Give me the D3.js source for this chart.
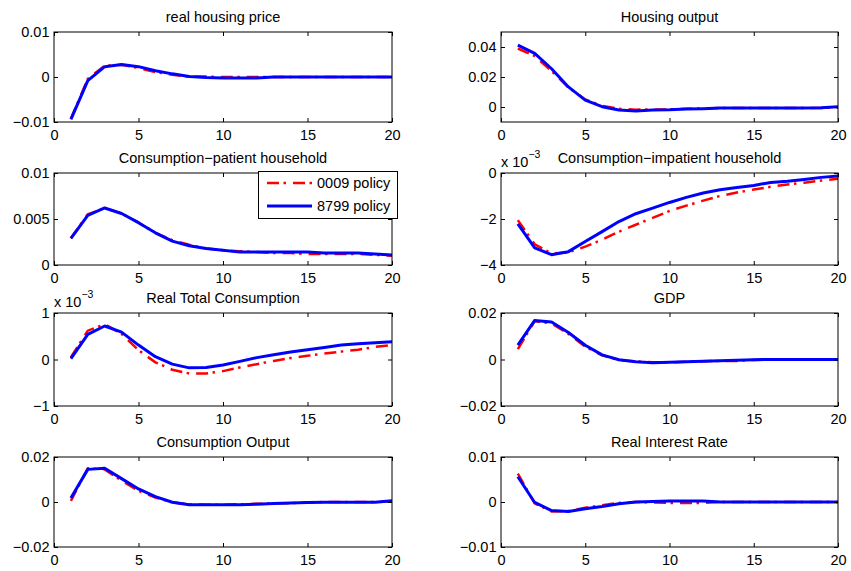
<!DOCTYPE html>
<html>
<head>
<meta charset="utf-8">
<script src="https://cdn.jsdelivr.net/npm/d3@7"></script>
<style>
  html, body { margin: 0; padding: 0; background: #fff; }
  svg { display: block; }
  text { font-family: "Liberation Sans", Arial, Helvetica, sans-serif; fill: #000; }
</style>
</head>
<body>
<svg id="chart" width="851" height="571"></svg>
<script>
// Impulse responses over a 20-quarter horizon under two policy rules
const horizon = d3.range(1, 21);
const seriesNames = ["0009 policy", "8799 policy"];

const titles = [
  "real housing price", "Housing output",
  "Consumption\u2212patient household", "Consumption\u2212impatient household",
  "Real Total Consumption", "GDP",
  "Consumption Output", "Real Interest Rate"
];

// y-axis limits and ticks (in displayed units; some panels carry an x10^-3 multiplier)
const yLimits = [[-0.01, 0.01], [-0.01, 0.05], [0, 0.01], [-4, 0], [-1, 1], [-0.02, 0.02], [-0.02, 0.02], [-0.01, 0.01]];
const yTicks = [[-0.01, 0, 0.01], [0, 0.02, 0.04], [0, 0.005, 0.01], [-4, -2, 0], [-1, 0, 1], [-0.02, 0, 0.02], [-0.02, 0, 0.02], [-0.01, 0, 0.01]];
const yMultiplier = [null, null, null, "\u22123", "\u22123", null, null, null];
const xTicks = [0, 5, 10, 15, 20];

// 0009 policy
const price0009 = [-0.0093, -0.0004, 0.0025, 0.0027, 0.0020, 0.0011, 0.0005, 0.0001, 0.0001, 0.0000, 0.0000, 0.0000, 0.0000, 0.0000, 0.0000, 0.0000, 0.0000, 0.0000, 0.0000, 0.0000];
const housingOut0009 = [0.0390, 0.0340, 0.0240, 0.0130, 0.0050, 0.0008, -0.0012, -0.0018, -0.0016, -0.0016, -0.0012, -0.0010, -0.0007, -0.0007, -0.0007, -0.0007, -0.0007, -0.0007, -0.0006, -0.0005];
const consPatient0009 = [0.0029, 0.0055, 0.0062, 0.0056, 0.0046, 0.0035, 0.0027, 0.0022, 0.0018, 0.0016, 0.0015, 0.0014, 0.0013, 0.0013, 0.0012, 0.0012, 0.0012, 0.0012, 0.0011, 0.0010];
const consImpatient0009 = [-2.05, -3.10, -3.50, -3.45, -3.20, -2.90, -2.55, -2.25, -1.95, -1.65, -1.42, -1.20, -1.00, -0.85, -0.72, -0.60, -0.50, -0.42, -0.33, -0.25];
const totalCons0009 = [0.05, 0.62, 0.76, 0.55, 0.20, -0.06, -0.22, -0.30, -0.30, -0.25, -0.17, -0.10, -0.03, 0.03, 0.08, 0.13, 0.17, 0.21, 0.27, 0.31];
const gdp0009 = [0.0045, 0.0165, 0.0155, 0.0110, 0.0055, 0.0018, -0.0003, -0.0008, -0.0012, -0.0012, -0.0010, -0.0008, -0.0006, -0.0006, -0.0002, 0.0000, 0.0000, 0.0000, 0.0000, 0.0000];
const consOut0009 = [0.0005, 0.0150, 0.0145, 0.0095, 0.0050, 0.0020, -0.0002, -0.0010, -0.0012, -0.0012, -0.0010, -0.0008, -0.0006, -0.0005, -0.0002, 0.0000, 0.0000, 0.0000, 0.0000, 0.0003];
const rate0009 = [0.0063, -0.0003, -0.0021, -0.0020, -0.0013, -0.0007, -0.0002, 0.0000, -0.0001, -0.0002, -0.0002, -0.0002, 0.0000, 0.0000, 0.0000, 0.0000, 0.0000, 0.0000, 0.0000, 0.0000];

// 8799 policy
const price8799 = [-0.0094, -0.0008, 0.0023, 0.0028, 0.0023, 0.0014, 0.0007, 0.0001, -0.0001, -0.0002, -0.0002, -0.0002, 0.0000, 0.0000, 0.0000, 0.0000, 0.0000, 0.0000, 0.0000, 0.0000];
const housingOut8799 = [0.0413, 0.0358, 0.0255, 0.0134, 0.0046, 0.0002, -0.0020, -0.0026, -0.0020, -0.0018, -0.0013, -0.0011, -0.0007, -0.0007, -0.0007, -0.0007, -0.0007, -0.0007, -0.0005, 0.0002];
const consPatient8799 = [0.0029, 0.0054, 0.0062, 0.0056, 0.0046, 0.0035, 0.0026, 0.0021, 0.0018, 0.0016, 0.0014, 0.0014, 0.0014, 0.0014, 0.0014, 0.0013, 0.0013, 0.0013, 0.0012, 0.0011];
const consImpatient8799 = [-2.21, -3.26, -3.55, -3.42, -2.98, -2.55, -2.11, -1.77, -1.53, -1.28, -1.06, -0.87, -0.73, -0.63, -0.54, -0.41, -0.36, -0.28, -0.19, -0.13];
const totalCons8799 = [0.02, 0.54, 0.72, 0.59, 0.31, 0.06, -0.10, -0.18, -0.17, -0.12, -0.04, 0.04, 0.10, 0.16, 0.21, 0.26, 0.31, 0.34, 0.36, 0.38];
const gdp8799 = [0.0062, 0.0168, 0.0161, 0.0116, 0.0061, 0.0020, -0.0001, -0.0010, -0.0014, -0.0012, -0.0010, -0.0007, -0.0005, -0.0003, -0.0001, 0.0000, 0.0000, 0.0000, 0.0000, 0.0000];
const consOut8799 = [0.0018, 0.0145, 0.0150, 0.0104, 0.0058, 0.0024, -0.0001, -0.0012, -0.0012, -0.0012, -0.0012, -0.0010, -0.0007, -0.0004, -0.0002, -0.0001, -0.0001, -0.0001, -0.0001, 0.0006];
const rate8799 = [0.0056, -0.0001, -0.0019, -0.0021, -0.0015, -0.0010, -0.0004, 0.0000, 0.0001, 0.0002, 0.0002, 0.0002, 0.0000, 0.0000, 0.0000, 0.0000, 0.0000, 0.0000, 0.0000, 0.0000];

const panels0009 = [price0009, housingOut0009, consPatient0009, consImpatient0009, totalCons0009, gdp0009, consOut0009, rate0009];
const panels8799 = [price8799, housingOut8799, consPatient8799, consImpatient8799, totalCons8799, gdp8799, consOut8799, rate8799];

// ---- layout ----
const colX = [[54, 392], [501, 838]];
const rowY = [[32, 122], [173, 265], [313, 406], [457, 547]];
const tickLen = 4;
const fontSize = 14.5;
const redDash = "12,4.5,2.5,7";

const svg = d3.select("#chart");

const fmt = v => {
  let s = String(+v.toFixed(6));
  return v < 0 ? "\u2212" + s.slice(1) : s;
};

titles.forEach((title, i) => {
  const col = i % 2, row = Math.floor(i / 2);
  const [x0, x1] = colX[col];
  const [y0, y1] = rowY[row];

  const x = d3.scaleLinear().domain([0, 20]).range([x0, x1]);
  const y = d3.scaleLinear().domain(yLimits[i]).range([y1, y0]);

  const g = svg.append("g");

  // series lines
  const line = d3.line().x((d, k) => x(horizon[k])).y(d => y(d));
  const clipId = "clip" + i;
  svg.append("clipPath").attr("id", clipId)
    .append("rect").attr("x", x0).attr("y", y0 - 2).attr("width", x1 - x0 + 2).attr("height", y1 - y0 + 4);

  g.append("path").datum(panels0009[i])
    .attr("d", line).attr("fill", "none")
    .attr("stroke", "#ff0000").attr("stroke-width", 2.5)
    .attr("stroke-dasharray", redDash)
    .attr("clip-path", `url(#${clipId})`);
  g.append("path").datum(panels8799[i])
    .attr("d", line).attr("fill", "none")
    .attr("stroke", "#0000ff").attr("stroke-width", 3)
    .attr("stroke-linejoin", "round")
    .attr("clip-path", `url(#${clipId})`);

  // axes: ticks pointing inward on all four sides
  const bottom = d3.axisBottom(x).tickValues(xTicks).tickSizeInner(-tickLen).tickSizeOuter(0).tickPadding(8).tickFormat(d3.format("d"));
  const top = d3.axisTop(x).tickValues(xTicks).tickSizeInner(-tickLen).tickSizeOuter(0).tickFormat("");
  const left = d3.axisLeft(y).tickValues(yTicks[i]).tickSizeInner(-tickLen).tickSizeOuter(0).tickPadding(4.5).tickFormat(fmt);
  const right = d3.axisRight(y).tickValues(yTicks[i]).tickSizeInner(-tickLen).tickSizeOuter(0).tickFormat("");

  const axes = [
    g.append("g").attr("transform", `translate(0,${y1})`).call(bottom),
    g.append("g").attr("transform", `translate(0,${y0})`).call(top),
    g.append("g").attr("transform", `translate(${x0},0)`).call(left),
    g.append("g").attr("transform", `translate(${x1},0)`).call(right)
  ];
  axes.forEach(a => {
    a.select(".domain").remove();
    a.selectAll(".tick line").attr("stroke", "#000").attr("stroke-width", 1);
    a.selectAll("text").attr("font-size", fontSize).attr("font-family", null);
  });

  // frame
  g.append("rect").attr("x", x0).attr("y", y0).attr("width", x1 - x0).attr("height", y1 - y0)
    .attr("fill", "none").attr("stroke", "#000").attr("stroke-width", 1);

  // title
  g.append("text").attr("x", (x0 + x1) / 2).attr("y", y0 - 10)
    .attr("text-anchor", "middle").attr("font-size", fontSize).text(title);

  // exponent multiplier
  if (yMultiplier[i]) {
    const t = g.append("text").attr("x", x0).attr("y", y0 - 6).attr("font-size", fontSize);
    t.append("tspan").text("x 10");
    t.append("tspan").attr("dy", -9).attr("font-size", 10.5).text(yMultiplier[i]);
  }

  // legend in the patient-household panel
  if (i === 2) {
    const lg = svg.append("g");
    lg.append("rect").attr("x", 258.5).attr("y", y0 - 1.5).attr("width", 139).attr("height", 47)
      .attr("fill", "#fff").attr("stroke", "#000").attr("stroke-width", 1);
    const rows = [
      { name: seriesNames[0], color: "#ff0000", w: 2.5, dash: redDash, dy: 11.5 },
      { name: seriesNames[1], color: "#0000ff", w: 3, dash: null, dy: 34.5 }
    ];
    rows.forEach(r => {
      const yy = y0 - 1.5 + r.dy;
      lg.append("line").attr("x1", 267).attr("x2", 312).attr("y1", yy).attr("y2", yy)
        .attr("stroke", r.color).attr("stroke-width", r.w).attr("stroke-dasharray", r.dash);
      lg.append("text").attr("x", 317).attr("y", yy).attr("dy", "0.35em")
        .attr("font-size", fontSize).text(r.name);
    });
  }
});
</script>
</body>
</html>
